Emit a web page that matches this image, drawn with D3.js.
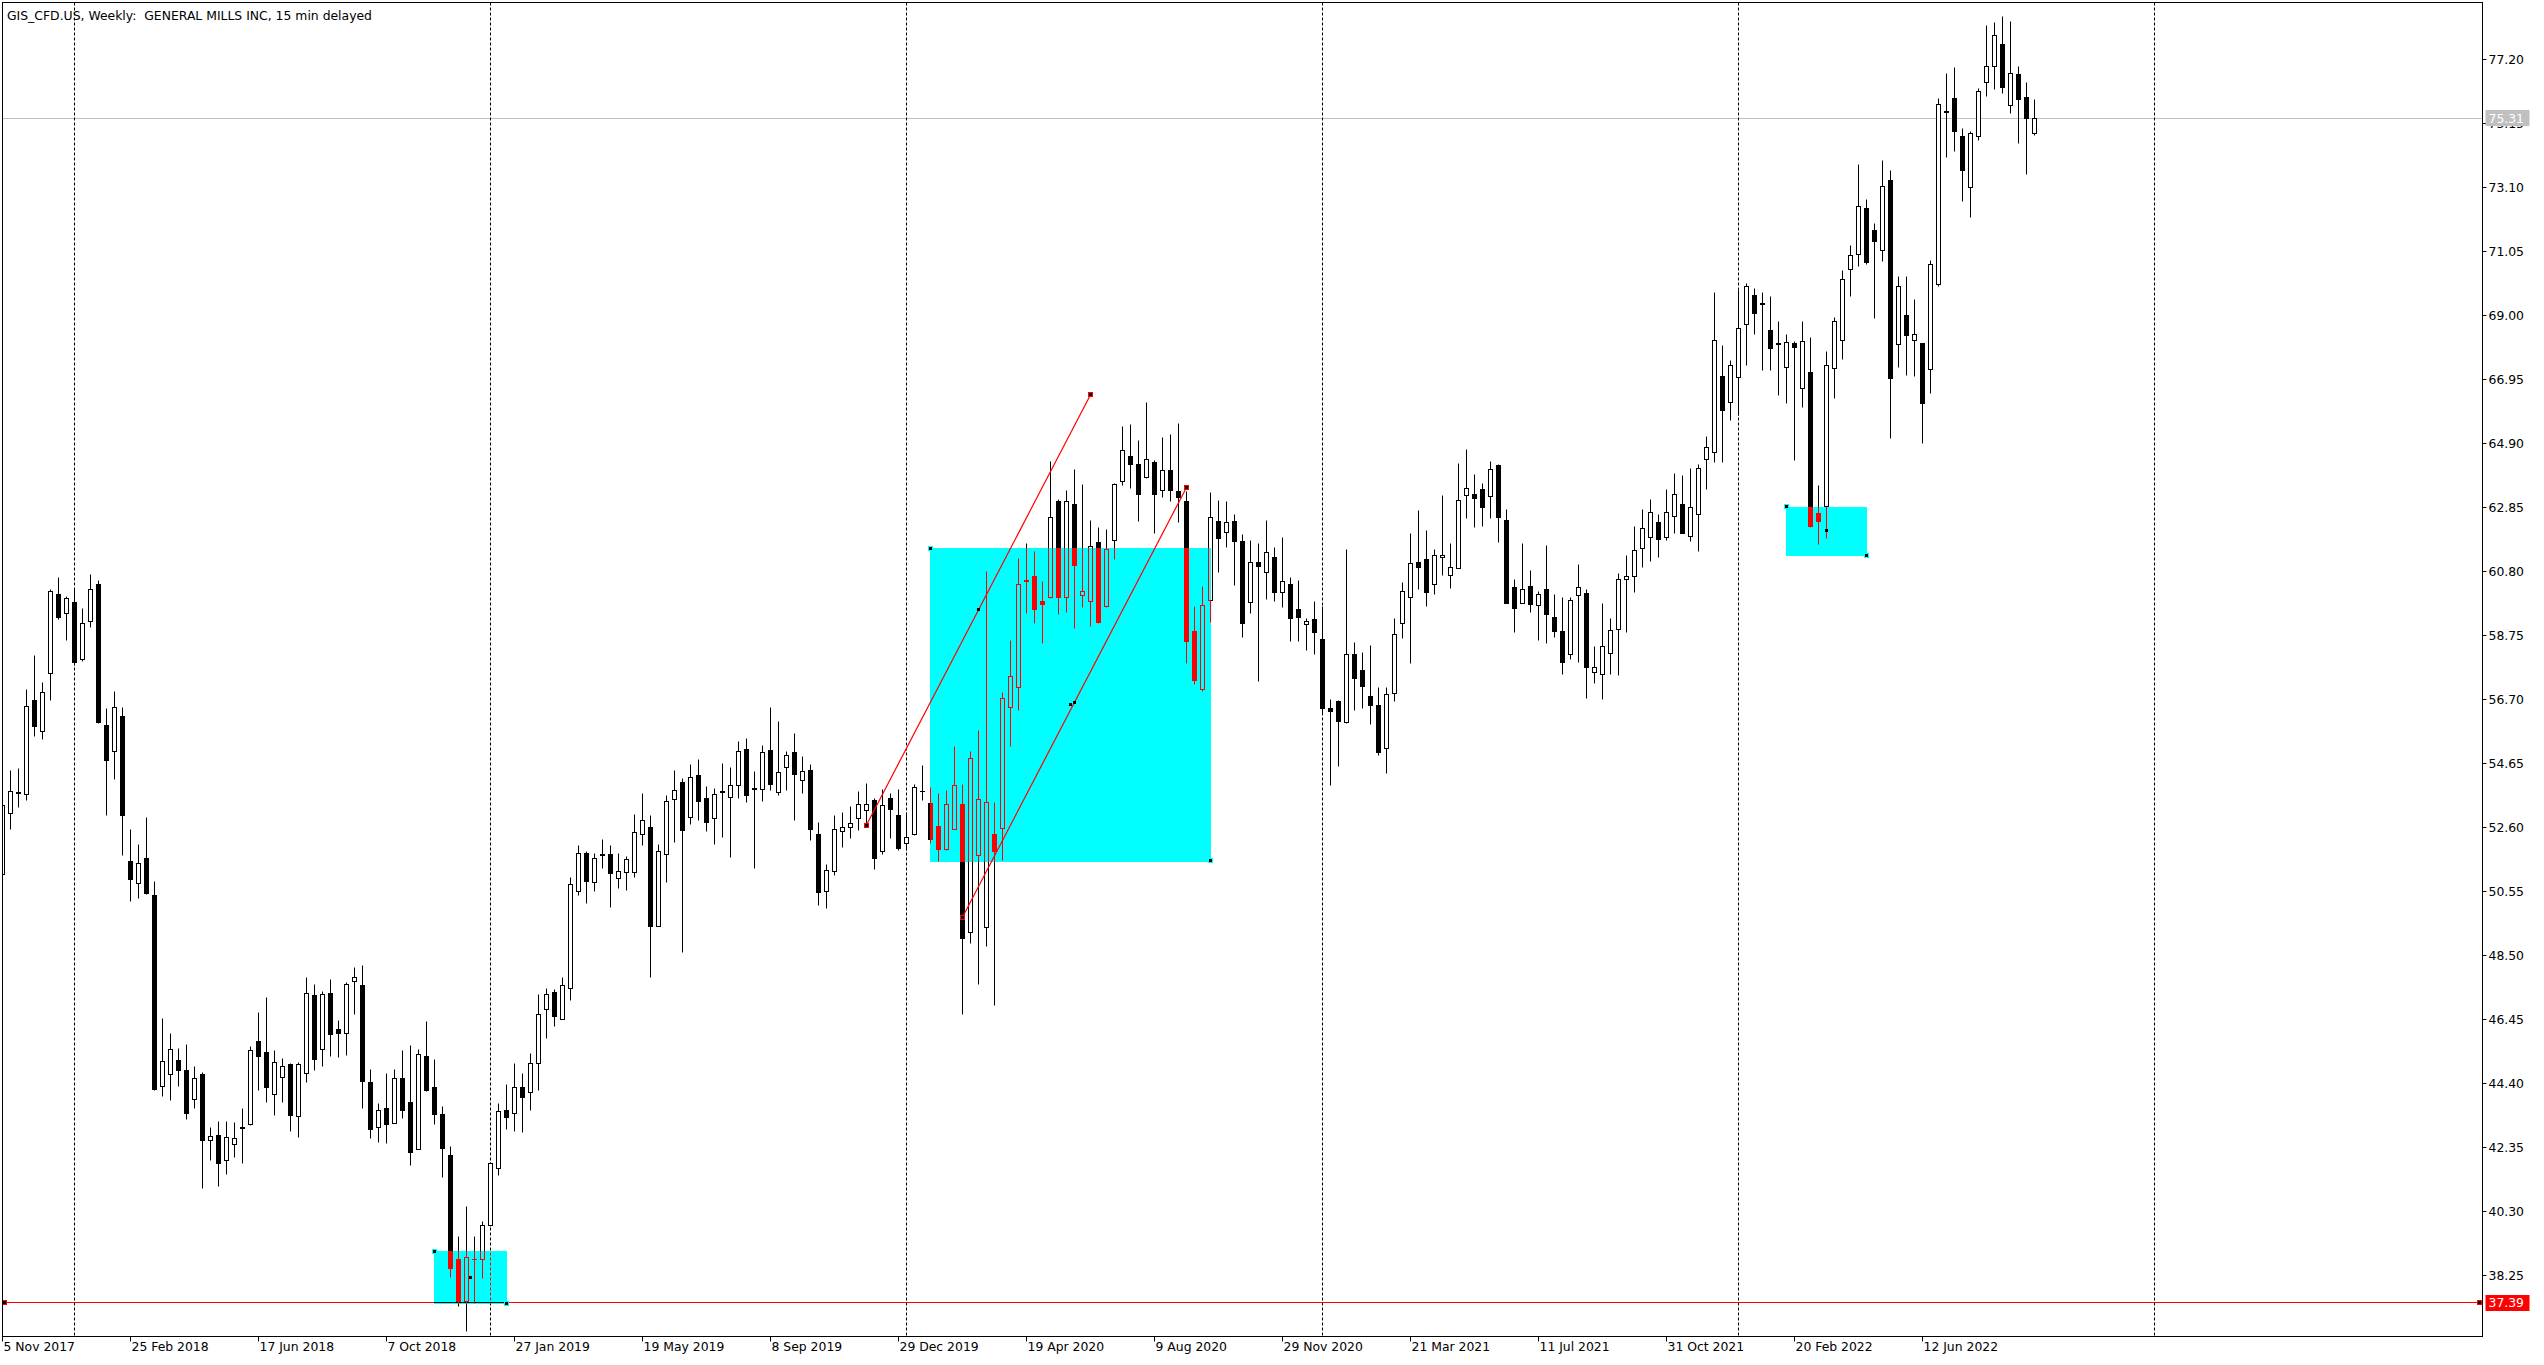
<!DOCTYPE html>
<html><head><meta charset="utf-8">
<script src="https://cdn.jsdelivr.net/npm/d3@7"></script>
<style>
html,body{margin:0;padding:0;background:#fff;overflow:hidden}
svg{display:block}
text{font-family:"DejaVu Sans",Verdana,sans-serif;font-size:12.4px;fill:#000}
</style></head><body>
<svg id="c" width="2544" height="1365"></svg>
<script>
// ---------------- data ----------------
const firstWeek = "2017-11-05";
const openP = [51.11,53.05,53.70,53.69,56.69,55.68,57.54,60.09,59.46,59.82,58.00,59.20,60.39,55.88,55.05,56.16,51.52,50.82,51.62,50.43,
44.31,44.70,45.17,44.83,43.92,44.70,42.58,42.74,41.96,42.48,42.97,43.11,45.75,45.40,44.06,44.60,45.02,43.35,44.73,47.24,
45.50,47.29,46.14,46.03,47.68,47.55,44.44,43.00,43.61,43.15,44.57,43.80,42.30,45.27,44.29,43.43,42.12,38.79,37.44,38.78,
38.77,39.87,41.69,43.55,43.45,44.28,44.12,45.05,46.78,47.32,46.48,47.45,50.58,51.77,50.85,51.72,51.74,50.97,51.17,51.17,
52.38,52.61,49.46,51.74,53.53,54.05,52.93,54.27,53.54,52.90,53.73,53.57,53.95,55.10,53.82,53.82,55.08,53.73,54.53,55.01,
54.11,54.43,52.39,50.56,51.22,52.48,52.61,52.92,53.15,53.48,51.86,53.54,52.99,52.12,52.40,53.76,53.38,52.65,51.92,52.54,
53.35,49.24,51.71,49.43,52.39,52.58,56.45,57.11,60.50,60.64,59.87,59.98,63.06,59.99,62.96,60.06,59.86,61.74,59.70,61.81,
63.71,64.50,64.24,63.82,64.31,63.40,64.04,63.37,63.06,58.89,57.03,59.90,62.43,62.05,62.41,61.79,59.81,61.09,60.77,61.25,
60.13,60.40,59.59,59.11,59.27,58.64,56.42,56.65,55.97,58.15,57.65,56.80,56.51,55.16,56.90,59.14,59.97,61.09,61.19,60.39,
61.25,60.68,60.90,63.24,63.28,63.43,63.21,64.21,62.45,60.29,59.78,60.33,59.72,60.23,59.33,58.89,58.15,60.05,60.10,57.57,
57.51,58.18,58.95,60.55,60.66,61.54,61.90,62.37,61.91,62.59,62.95,61.95,62.65,64.41,64.64,67.05,66.24,67.02,68.71,69.65,
69.37,68.52,68.09,67.34,68.11,66.68,67.20,62.67,62.91,67.32,68.22,70.50,70.98,72.43,71.72,71.09,73.35,68.09,69.02,68.22,
68.11,67.27,70.00,75.52,75.96,74.74,73.11,74.75,76.47,77.00,77.68,75.75,76.73,75.98,74.85];
const highP = [53.60,54.44,54.50,57.01,58.12,57.25,60.23,60.62,59.99,60.23,59.60,60.71,60.52,56.40,56.95,56.43,52.53,52.05,52.91,50.88,
46.47,46.01,45.54,45.64,44.96,44.77,43.00,43.20,43.20,43.16,43.59,45.58,46.69,47.16,45.45,45.22,45.05,45.08,47.80,47.56,
47.35,47.74,46.41,47.64,48.12,48.17,44.86,43.77,44.73,44.84,45.45,45.61,45.48,46.39,45.16,43.68,42.40,39.50,40.48,39.52,
40.00,41.87,43.75,44.36,45.05,44.73,45.35,47.26,47.45,47.40,47.80,51.01,52.01,51.84,51.77,52.22,52.04,51.77,51.67,53.03,
53.70,53.00,52.07,53.63,54.44,54.18,54.62,54.79,53.92,53.84,54.66,54.53,55.34,55.46,54.41,55.24,56.46,55.98,55.05,55.62,
54.88,54.63,52.77,51.42,52.97,53.09,53.26,53.77,54.02,53.54,53.82,53.70,53.82,53.08,53.99,54.59,53.88,53.70,53.80,55.21,
53.99,55.05,55.72,60.80,53.41,56.93,58.60,61.20,61.71,61.44,60.49,64.33,63.09,63.38,64.05,63.57,62.44,62.22,62.13,63.63,
65.45,65.52,64.98,66.20,64.35,65.09,65.20,65.54,63.36,59.69,60.33,63.34,63.06,63.03,62.61,61.97,61.79,61.71,62.42,61.58,
61.88,60.61,60.50,59.28,59.85,59.68,56.71,56.68,61.49,58.53,58.21,58.44,57.09,57.10,59.30,60.45,62.02,62.74,62.10,61.49,
63.22,61.71,64.27,64.69,63.89,63.62,64.33,64.21,62.77,60.53,61.71,60.82,60.17,61.62,60.07,59.97,59.97,61.03,60.23,58.41,
59.76,59.30,60.74,61.30,62.24,62.77,63.09,62.64,63.44,63.94,63.86,64.10,64.24,65.11,69.73,68.05,67.57,69.81,70.01,69.87,
69.74,69.62,68.82,68.40,68.16,68.80,68.30,63.54,67.83,68.92,70.44,71.25,73.82,72.72,71.95,73.96,73.64,70.26,70.26,69.52,
68.11,70.76,75.96,76.76,76.94,74.98,74.89,76.28,78.27,78.39,78.57,78.42,76.96,76.47,75.92];
const lowP = [50.60,52.54,53.24,53.46,55.50,55.42,56.66,59.27,58.60,57.80,57.92,59.00,55.92,52.98,54.15,51.71,50.23,50.32,50.45,44.19,
43.98,43.85,44.31,43.24,43.59,41.04,41.93,41.11,41.50,42.02,41.83,43.07,44.18,43.79,43.38,43.81,42.86,42.67,44.43,44.82,
44.94,45.26,45.23,45.30,46.60,43.60,42.64,42.51,42.49,43.11,43.27,41.77,42.30,44.14,43.08,41.39,38.20,37.26,36.46,37.37,
38.17,39.84,41.45,42.92,42.86,42.83,43.53,44.17,45.85,46.22,46.44,47.06,50.44,50.16,50.55,51.28,50.04,50.66,50.60,50.99,
52.02,47.80,49.46,50.84,52.12,48.60,52.69,52.82,52.47,52.05,52.28,51.64,53.53,53.40,51.30,53.43,53.78,53.64,53.78,52.82,
53.69,52.18,50.09,50.00,51.06,51.96,52.24,52.49,52.68,51.27,51.75,52.26,51.85,51.85,52.34,53.48,52.09,51.51,51.85,52.54,
46.62,48.89,47.58,48.79,46.91,51.54,55.19,56.34,59.44,59.14,58.49,59.93,59.42,59.50,58.96,59.66,59.05,59.14,59.66,61.17,
63.54,63.45,62.40,63.79,62.03,63.18,63.04,62.36,57.85,57.17,56.95,59.16,60.76,61.57,60.34,58.68,59.44,57.27,59.89,59.83,
59.64,58.55,58.55,58.26,58.13,56.26,53.96,54.55,55.92,56.36,56.40,55.90,54.90,54.32,56.63,58.65,57.85,60.21,59.67,60.07,
60.67,60.26,60.90,62.49,62.20,62.23,62.49,61.72,59.78,58.84,59.78,59.48,58.58,58.50,58.68,57.51,57.97,57.89,56.74,57.20,
56.71,57.51,57.46,58.85,60.13,60.93,61.12,61.24,61.79,62.00,62.04,61.76,61.43,63.44,64.28,64.28,65.65,65.81,67.38,68.40,
67.25,67.25,66.45,66.18,64.36,66.05,62.20,61.67,61.84,66.35,67.60,69.59,70.56,70.62,68.90,70.71,65.05,67.32,67.06,67.03,
64.90,66.49,69.93,74.04,74.24,72.66,72.14,74.59,76.02,76.22,76.10,75.46,74.51,73.52,74.75];
const closeP = [53.33,53.76,53.74,56.49,55.86,56.94,60.18,59.33,59.95,57.89,59.14,60.24,55.97,54.77,56.45,53.01,50.96,51.48,50.52,44.24,
45.12,45.51,44.83,43.45,44.57,42.58,42.72,41.85,42.68,42.65,43.00,45.49,45.29,44.30,45.08,44.95,43.38,45.02,47.29,45.20,
47.27,46.00,46.03,47.58,47.80,44.50,42.96,43.54,43.12,44.57,43.54,42.20,45.34,44.20,43.42,42.35,38.51,37.44,38.84,38.80,
39.87,41.85,43.51,43.32,44.28,43.98,45.07,46.62,47.26,46.58,47.55,50.78,51.77,50.90,51.62,51.76,51.13,51.22,51.58,52.45,
52.83,49.46,51.84,53.44,53.79,52.53,54.21,53.46,52.79,53.66,53.77,53.95,55.04,53.65,53.86,55.01,54.00,54.37,54.92,54.33,
54.40,52.56,50.55,51.23,52.54,52.61,52.74,53.34,53.34,51.64,53.31,53.20,51.96,52.30,53.89,53.78,52.23,51.92,53.34,53.95,
49.05,54.82,53.50,53.41,51.86,56.74,57.45,60.40,60.52,59.61,59.77,62.53,59.98,63.07,61.02,60.19,61.60,59.18,61.52,63.60,
64.69,64.25,63.29,64.39,63.29,64.04,63.42,63.17,58.57,57.33,59.72,62.56,61.88,62.40,61.78,59.14,61.09,60.99,61.41,60.15,
60.48,59.32,59.35,59.20,58.87,56.44,56.34,56.02,58.15,57.40,57.14,56.52,55.03,56.87,58.79,60.16,61.06,60.95,60.15,61.32,
61.33,60.93,63.08,63.46,63.16,62.87,64.07,62.55,59.78,59.64,60.23,59.75,60.08,59.44,58.89,57.89,59.89,60.31,57.75,57.75,
58.42,58.91,60.55,60.64,61.48,62.18,62.70,61.83,62.70,63.27,62.04,62.85,64.10,64.78,68.20,65.98,67.40,68.59,69.94,69.09,
69.41,67.95,68.13,68.14,67.99,68.19,62.26,62.41,67.42,68.83,70.15,70.92,72.49,70.71,71.37,73.13,67.00,69.93,68.37,68.39,
66.21,70.66,75.76,75.56,74.89,73.64,74.83,76.17,77.00,77.99,76.31,76.75,75.92,75.33,75.31];

const priceTicks = [77.20,75.15,73.10,71.05,69.00,66.95,64.90,62.85,60.80,58.75,56.70,54.65,52.60,50.55,48.50,46.45,44.40,42.35,40.30,38.25];
const dateLabels = ["5 Nov 2017","25 Feb 2018","17 Jun 2018","7 Oct 2018","27 Jan 2019","19 May 2019","8 Sep 2019","29 Dec 2019",
  "19 Apr 2020","9 Aug 2020","29 Nov 2020","21 Mar 2021","11 Jul 2021","31 Oct 2021","20 Feb 2022","12 Jun 2022"];
const yearSeparators = ["2018-01-07","2019-01-06","2020-01-05","2021-01-03","2022-01-02","2023-01-01"];
const titleText = "GIS_CFD.US, Weekly:  GENERAL MILLS INC, 15 min delayed";
const supportLevel = 37.39;
const bidPrice = 75.31;
// rectangles: [first bar, last bar] and [top price, bottom price]
const boxBars = [[54,63],[116,151],[223,233]];
const boxPrices = [[39.04,37.37],[61.55,51.54],[62.88,61.32]];
// trend lines: [bar, price] -> [bar, price]
const lineStart = [[108,52.68],[120,49.73]];
const lineEnd = [[136,66.46],[148,63.49]];

// ---------------- scales ----------------
const W = 2544, H = 1365;
const L = 2.5, R = 2482.5, T = 2.5, B = 1336.5;
const parseISO = d3.utcParse("%Y-%m-%d");
const t0 = parseISO(firstWeek);
const barDate = i => d3.utcDay.offset(t0, 7 * i);
const x = d3.scaleUtc().domain([t0, barDate(1)]).range([2.5, 10.5]);
const y = d3.scaleLinear().domain([38.25, 77.20]).range([1275.7, 59.3]);
const xb = i => x(barDate(i));
const snap = v => Math.round(v - 0.5) + 0.5;
const fmt = d3.format(".2f");

const svg = d3.select("#c");
svg.append("rect").attr("width", W).attr("height", H).attr("fill", "#fff");
svg.append("defs").append("clipPath").attr("id", "plot")
  .append("rect").attr("x", L).attr("y", T).attr("width", R - L).attr("height", B - T);

const plot = svg.append("g").attr("clip-path", "url(#plot)");
// white backdrop inside the blended group
plot.append("rect").attr("x", 0).attr("y", 0).attr("width", W).attr("height", H).attr("fill", "#fff");

// bid line
plot.append("line").attr("x1", L).attr("x2", R)
  .attr("y1", snap(y(bidPrice))).attr("y2", snap(y(bidPrice)))
  .attr("stroke", "#c0c0c0").attr("stroke-width", 1);

// year separators
plot.selectAll("line.sep").data(yearSeparators).join("line").attr("class", "sep")
  .attr("x1", d => x(parseISO(d))).attr("x2", d => x(parseISO(d)))
  .attr("y1", T).attr("y2", B)
  .attr("stroke", "#000").attr("stroke-width", 1).attr("stroke-dasharray", "3,2");

// support line
plot.append("line").attr("x1", L).attr("x2", R)
  .attr("y1", snap(y(supportLevel))).attr("y2", snap(y(supportLevel)))
  .attr("stroke", "#ff0000").attr("stroke-width", 1);

// candles
const bars = openP.map((o, i) => ({i, o, h: highP[i], l: lowP[i], c: closeP[i]}));
const cg = plot.append("g");
bars.forEach(d => {
  const cx = xb(d.i);
  cg.append("line").attr("x1", cx).attr("x2", cx)
    .attr("y1", snap(y(d.h))).attr("y2", snap(y(d.l)))
    .attr("stroke", "#000").attr("stroke-width", 1);
  const top = Math.round(y(Math.max(d.o, d.c)));
  const bot = Math.round(y(Math.min(d.o, d.c)));
  if (bot - top < 1) {
    cg.append("line").attr("x1", cx - 2.5).attr("x2", cx + 2.5)
      .attr("y1", top + 0.5).attr("y2", top + 0.5).attr("stroke", "#000").attr("stroke-width", 1);
  } else {
    cg.append("rect").attr("x", cx - 2).attr("y", top + 0.5)
      .attr("width", 4).attr("height", bot - top)
      .attr("fill", d.c >= d.o ? "#fff" : "#000").attr("stroke", "#000").attr("stroke-width", 1);
  }
});

// rectangles (drawn in red, XOR-like difference blend over the chart)
boxBars.forEach((b, k) => {
  const x0 = Math.round(xb(b[0]) - 0.5), x1 = Math.round(xb(b[1]) - 0.5);
  const y0 = Math.round(y(boxPrices[k][0])), y1 = Math.round(y(boxPrices[k][1]));
  plot.append("rect").attr("x", x0).attr("y", y0).attr("width", x1 - x0 + 1).attr("height", y1 - y0 + 1)
    .attr("fill", "#ff0000").style("mix-blend-mode", "difference");
});

// trend lines
lineStart.forEach((s, k) => {
  const e = lineEnd[k];
  plot.append("line").attr("x1", xb(s[0])).attr("y1", y(s[1])).attr("x2", xb(e[0])).attr("y2", y(e[1]))
    .attr("stroke", "#ff0000").attr("stroke-width", 1.2);
});

// selection markers
function marker(cx, cy, border) {
  const px = Math.round(cx - 0.5), py = Math.round(cy - 0.5);
  if (border) plot.append("rect").attr("x", px - 2).attr("y", py - 2).attr("width", 5).attr("height", 5).attr("fill", border);
  plot.append("rect").attr("x", px - 1).attr("y", py - 1).attr("width", 3).attr("height", 3).attr("fill", "#000");
}
lineStart.forEach((s, k) => {
  const e = lineEnd[k];
  marker(xb(s[0]), y(s[1]), "#ff0000");
  marker(xb(e[0]), y(e[1]), "#ff0000");
  marker((xb(s[0]) + xb(e[0])) / 2, (y(s[1]) + y(e[1])) / 2, null);
});
boxBars.forEach((b, k) => {
  marker(xb(b[0]), y(boxPrices[k][0]), "#00ffff");
  marker(xb(b[1]), y(boxPrices[k][1]), "#00ffff");
  marker((xb(b[0]) + xb(b[1])) / 2, (y(boxPrices[k][0]) + y(boxPrices[k][1])) / 2, null);
});
marker(4.5, y(supportLevel), "#ff0000");
marker(R - 3, y(supportLevel), "#ff0000");

// frame
svg.append("rect").attr("x", L).attr("y", T).attr("width", R - L).attr("height", B - T)
  .attr("fill", "none").attr("stroke", "#000").attr("stroke-width", 1);

// right price axis
const ya = svg.append("g");
priceTicks.forEach(p => {
  const py = snap(y(p));
  ya.append("line").attr("x1", R).attr("x2", R + 4).attr("y1", py).attr("y2", py).attr("stroke", "#000");
  ya.append("text").attr("x", R + 6).attr("y", py).attr("dy", "0.36em").text(fmt(p));
});
function priceTag(p, col) {
  const py = y(p);
  ya.append("rect").attr("x", R + 3).attr("y", Math.round(py) - 8).attr("width", 44).attr("height", 16).attr("fill", col);
  ya.append("text").attr("x", R + 6).attr("y", snap(py)).attr("dy", "0.36em").style("fill", "#fff").text(fmt(p));
}
priceTag(bidPrice, "#c0c0c0");
priceTag(supportLevel, "#ff0000");

// bottom date axis
const parseLbl = d3.utcParse("%d %b %Y");
const xa = svg.append("g");
dateLabels.forEach(s => {
  const px = x(parseLbl(s));
  xa.append("line").attr("x1", px).attr("x2", px).attr("y1", B).attr("y2", B + 5).attr("stroke", "#000");
  xa.append("text").attr("x", px + 1).attr("y", B + 14).text(s);
});

// title
svg.append("text").attr("x", 7).attr("y", 20).style("white-space", "pre").text(titleText);
</script>
</body></html>
